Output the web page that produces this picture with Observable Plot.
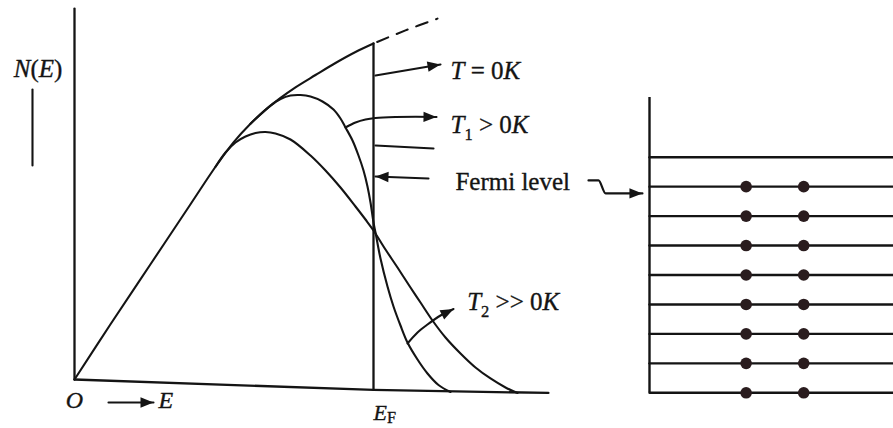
<!DOCTYPE html>
<html>
<head>
<meta charset="utf-8">
<script src="https://cdn.jsdelivr.net/npm/d3@7"></script>
<script src="https://cdn.jsdelivr.net/npm/@observablehq/plot@0.6"></script>
<style>
  html, body { margin: 0; padding: 0; background: #fff; }
  #fig { position: relative; width: 893px; height: 428px; overflow: hidden; background: #fff; }
  #fig svg { position: absolute; top: 0; }
</style>
</head>
<body>
<div id="fig"></div>
<script>
// Energy E in units of E_F, occupation N(E) in units of N(E_F) at T = 0 K.
// T = 0 K: density of states up to the Fermi energy
const t0E = [0, 0.1204, 0.2542, 0.3880, 0.4716, 0.5318, 0.5886, 0.6388, 0.6890, 0.7391, 0.8060, 0.8729, 0.9398, 1.0];
const t0N = [0, 0.1644, 0.3430, 0.5216, 0.6332, 0.7057, 0.7612, 0.8025, 0.8381, 0.8696, 0.9062, 0.9420, 0.9747, 1.0];
// density of states continued above E_F
const dosE = [1.0, 1.107, 1.214];
const dosN = [1.0, 1.039, 1.074];
// T1 > 0 K
const t1E = [0.5886, 0.6555, 0.6890, 0.7224, 0.7559, 0.7893, 0.8294, 0.8662, 0.8896, 0.9064, 0.9298, 0.9498, 0.9666, 0.9799, 0.9900, 1.0000, 1.0067, 1.0234, 1.0468, 1.0669, 1.0903, 1.1137, 1.1472, 1.1806, 1.2174, 1.2575];
const t1N = [0.7612, 0.8149, 0.8348, 0.8452, 0.8467, 0.8423, 0.8274, 0.8036, 0.7768, 0.7500, 0.7113, 0.6667, 0.6220, 0.5744, 0.5268, 0.4673, 0.4375, 0.3601, 0.2768, 0.2173, 0.1607, 0.1101, 0.0595, 0.0179, -0.0164, -0.0372];
// T2 >> 0 K
const t2E = [0.4716, 0.5050, 0.5385, 0.5719, 0.6054, 0.6388, 0.6722, 0.7224, 0.7893, 0.8395, 0.8896, 0.9398, 0.9732, 1.0, 1.0401, 1.0803, 1.1237, 1.1572, 1.1973, 1.2408, 1.2910, 1.3411, 1.3913, 1.4415, 1.4816];
const t2N = [0.6332, 0.6756, 0.7054, 0.7232, 0.7336, 0.7366, 0.7321, 0.7143, 0.6667, 0.6220, 0.5714, 0.5149, 0.4762, 0.4435, 0.3869, 0.3333, 0.2738, 0.2292, 0.1756, 0.1250, 0.0774, 0.0357, 0.0030, -0.0238, -0.0402];

// frame: N axis, E axis, Fermi energy
const nAxisE = [0, 0];        const nAxisN = [0, 1.104];
const eAxisE = [0, 1.0, 1.585]; const eAxisN = [0, -0.031, -0.040];
const fermiE = [1.0, 1.0];    const fermiN = [1.0, -0.031];

// pointers (last point carries the head when headed)
const pointers = [
  {E: [1.0067, 1.2241], N: [0.9048, 0.9375], head: true},
  {E: [0.9064, 0.9398, 0.9732, 1.0067, 1.0736, 1.1405, 1.2107], N: [0.7500, 0.7649, 0.7738, 0.7783, 0.7812, 0.7818, 0.7812], head: true},
  {E: [1.0067, 1.2007], N: [0.6964, 0.6875], head: false},
  {E: [1.1839, 1.0067], N: [0.5982, 0.6042], head: true},
  {E: [1.1137, 1.1472, 1.1806, 1.2241, 1.2676], N: [0.1071, 0.1399, 0.1637, 0.1905, 0.2098], head: true},
  {E: [0.1137, 0.2642], N: [-0.0685, -0.0685], head: true},
  {E: [-0.1405, -0.1405], N: [0.637, 0.863], head: false}
];

// labels
const labelText = ["*T* = 0*K*", "*T*_1 > 0*K*", "Fermi level", "*T*_2 >> 0*K*", "*E*", "*E*_F", "*N*(*E*)", "*O*"];
const labelE = [1.2575, 1.2575, 1.274, 1.3134, 0.281, 1.0, -0.122, 0.0];
const labelN = [0.918, 0.756, 0.589, 0.232, -0.0625, -0.101, 0.924, -0.0625];
const labelRole = ["big", "big", "big", "big", "axis", "small", "big", "axis"];
const labelAnchor = ["start", "start", "start", "start", "start", "start", "middle", "middle"];

// energy levels: level index, electron columns, occupied levels
const levels = [0, 1, 2, 3, 4, 5, 6, 7, 8];
const levelTop = 10.03;
const occupied = [0, 1, 2, 3, 4, 5, 6, 7];
const electronX = [0.396, 0.632];
const fermiPointerX = [-0.250, -0.209, -0.180, -0.029];
const fermiPointerL = [7.21, 7.21, 6.77, 6.77];

const ink = "#141414";
const font = "'Liberation Serif', 'DejaVu Serif', serif";
const fontSizes = {big: 25, axis: 24, small: 22};
const subScale = {big: 0.66, axis: 0.66, small: 0.74};
const subDrop = {big: 0.28, axis: 0.28, small: 0.12};

// scales
const leftX = {domain: [0, 1], range: [74, 373]};
const leftY = {domain: [0, 1], range: [379, 43]};
const rightX = {domain: [0, 1], range: [69, 313]};
const rightY = {domain: [0, 8], range: [392.3, 156.7]};

// filled arrowhead with its tip at the origin, pointing along +x
const arrowHead = {
  draw(context, size) {
    const r = Math.sqrt(size / Math.PI);
    context.moveTo(0, 0);
    context.lineTo(-r, -0.4 * r);
    context.lineTo(-r, 0.4 * r);
    context.closePath();
  }
};

const zip = (xs, ys, extra = {}) => xs.map((x, i) => ({x, y: ys[i], ...extra}));

function headsFor(paths, xs, ys) {
  const sx = d3.scaleLinear(xs.domain, xs.range), sy = d3.scaleLinear(ys.domain, ys.range);
  return paths.filter(p => p.head).map(p => {
    const n = p.x.length;
    const a = Math.atan2(sy(p.y[n - 1]) - sy(p.y[n - 2]), sx(p.x[n - 1]) - sx(p.x[n - 2])) * 180 / Math.PI;
    return {x: p.x[n - 1], y: p.y[n - 1], angle: a};
  });
}

// turn "*italic*" and "_s" (subscript) markup into tspans
function richText(group, items) {
  d3.select(group).selectAll("text").each(function (_, i) {
    const {text, size: fs, role} = items[i];
    const drop = fs * subDrop[role];
    const parts = text.split(/(\*[^*]+\*|_.)/).filter(s => s);
    const t = d3.select(this);
    t.text(null);
    let shifted = false;
    for (const p of parts) {
      const s = t.append("tspan");
      if (p[0] === "_") {
        s.text(p.slice(1)).attr("font-size", (fs * subScale[role]).toFixed(1)).attr("dy", drop.toFixed(1));
        shifted = true;
        continue;
      }
      if (shifted) { s.attr("dy", (-drop).toFixed(1)); shifted = false; }
      if (p[0] === "*") s.text(p.slice(1, -1)).attr("font-style", "italic");
      else s.text(p);
    }
  });
}

// ---- left panel: N(E) against E ----
const curves = [
  ...zip(t0E, t0N, {id: "T0"}),
  ...zip(t1E, t1N, {id: "T1"}),
  ...zip(t2E, t2N, {id: "T2"})
];
const frame = [
  ...zip(nAxisE, nAxisN, {id: "n"}),
  ...zip(eAxisE, eAxisN, {id: "e"}),
  ...zip(fermiE, fermiN, {id: "f"})
];
const pointerPaths = pointers.map((p, k) => ({x: p.E, y: p.N, head: p.head, id: k}));
const pointerPoints = pointerPaths.flatMap(p => zip(p.x, p.y, {id: p.id}));
const leftHeads = headsFor(pointerPaths, leftX, leftY);

const labels = labelText.map((t, i) => ({
  text: t, x: labelE[i], y: labelN[i], role: labelRole[i], size: fontSizes[labelRole[i]], anchor: labelAnchor[i]
}));
const startLabels = labels.filter(d => d.anchor === "start");
const middleLabels = labels.filter(d => d.anchor === "middle");

const left = Plot.plot({
  width: 580, height: 428, margin: 0,
  x: {...leftX, axis: null},
  y: {...leftY, axis: null},
  style: {background: "transparent", fontFamily: font, overflow: "visible"},
  marks: [
    Plot.line(frame, {x: "x", y: "y", z: "id", stroke: ink, strokeWidth: 2.3}),
    Plot.line(curves, {x: "x", y: "y", z: "id", stroke: ink, strokeWidth: 2.1, curve: "catmull-rom"}),
    Plot.line(zip(dosE, dosN), {x: "x", y: "y", stroke: ink, strokeWidth: 2.1, strokeDasharray: "12,9", strokeDashoffset: -4, curve: "catmull-rom"}),
    Plot.line(pointerPoints, {x: "x", y: "y", z: "id", stroke: ink, strokeWidth: 2.1, curve: "catmull-rom"}),
    Plot.dot(leftHeads, {x: "x", y: "y", rotate: "angle", symbol: arrowHead, r: 13, fill: ink, stroke: "none"}),
    Plot.text(startLabels, {x: "x", y: "y", text: "text", fontSize: "size", textAnchor: "start", lineAnchor: "middle", fill: ink, stroke: ink, strokeWidth: 0.35}),
    Plot.text(middleLabels, {x: "x", y: "y", text: "text", fontSize: "size", textAnchor: "middle", lineAnchor: "middle", fill: ink, stroke: ink, strokeWidth: 0.35})
  ]
});
left.style.left = "0px";
const textGroups = d3.select(left).selectAll('g[aria-label="text"]').nodes();
richText(textGroups[0], startLabels);
richText(textGroups[1], middleLabels);

// ---- right panel: filled energy levels ----
const levelLines = levels.flatMap(l => [{x: 0, y: l, id: l}, {x: 1, y: l, id: l}]);
const electrons = occupied.flatMap(l => electronX.map(x => ({x, y: l})));
const fermiPath = [{x: fermiPointerX, y: fermiPointerL, head: true}];
const rightHeads = headsFor(fermiPath, rightX, rightY);

const right = Plot.plot({
  width: 313, height: 428, margin: 0,
  x: {...rightX, axis: null},
  y: {...rightY, axis: null},
  style: {background: "transparent", overflow: "visible"},
  marks: [
    Plot.ruleX([0], {y1: 0, y2: levelTop, stroke: ink, strokeWidth: 2.4}),
    Plot.line(levelLines, {x: "x", y: "y", z: "id", stroke: ink, strokeWidth: 2.4}),
    Plot.dot(electrons, {x: "x", y: "y", r: 5.8, fill: "#2a1c1e", stroke: "none"}),
    Plot.line(zip(fermiPointerX, fermiPointerL), {x: "x", y: "y", stroke: ink, strokeWidth: 2.2, curve: "monotone-x"}),
    Plot.dot(rightHeads, {x: "x", y: "y", rotate: "angle", symbol: arrowHead, r: 13, fill: ink, stroke: "none"})
  ]
});
right.style.left = "580px";

const fig = document.getElementById("fig");
fig.append(left, right);
</script>
</body>
</html>
